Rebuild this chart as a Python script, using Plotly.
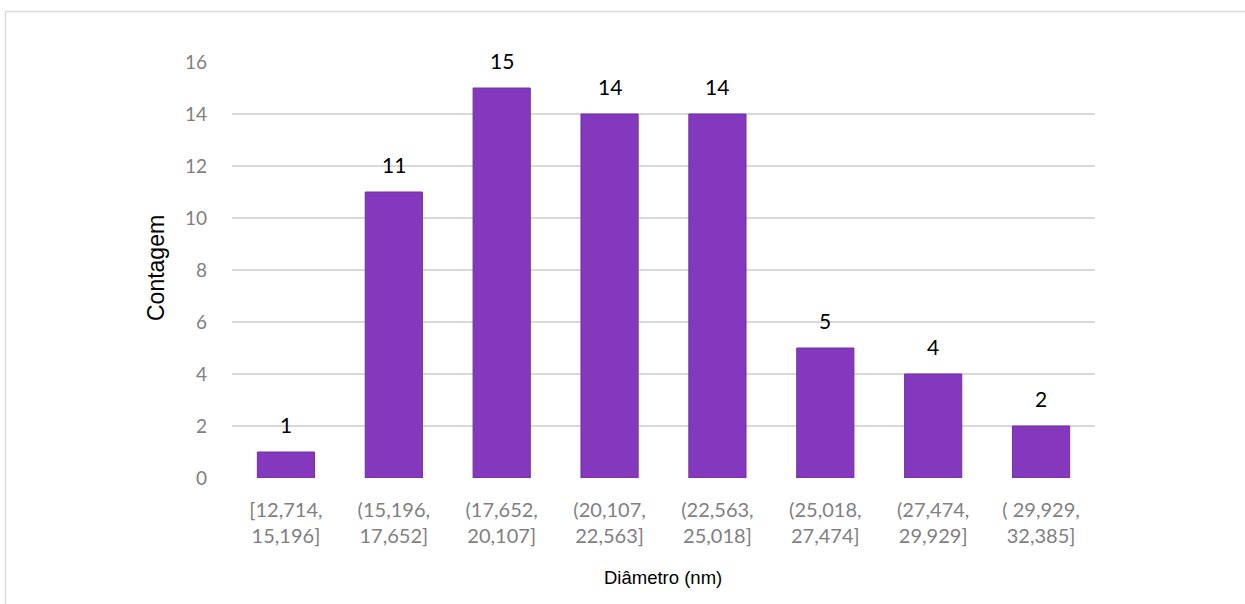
import plotly.graph_objects as go

# Histogram of particle diameters
bins = ["[12,714,<br>15,196]", "(15,196,<br>17,652]", "(17,652,<br>20,107]",
        "(20,107,<br>22,563]", "(22,563,<br>25,018]", "(25,018,<br>27,474]",
        "(27,474,<br>29,929]", "( 29,929,<br>32,385]"]
counts = [1, 11, 15, 14, 14, 5, 4, 2]
y_ticks = [0, 2, 4, 6, 8, 10, 12, 14, 16]

W, H = 1245, 604
L, R, T, B = 232, 150, 62, 126
pw, ph = W - L - R, H - T - B

def px_x(px):
    return (px - L) / pw

def px_y(py):
    return (H - B - py) / ph

fig = go.Figure()
fig.add_trace(go.Bar(
    x=list(range(len(bins))), y=counts,
    marker=dict(color="#8338BE", line=dict(color="#7030A0", width=1)),
    width=0.53, hoverinfo="skip",
))

# value labels above each bar
for i, c in enumerate(counts):
    fig.add_annotation(x=i, y=c, text=str(c), showarrow=False,
                       xanchor="center", yanchor="middle", yshift=28,
                       font=dict(family="Lato", size=21, color="#000000"))

# axis titles
fig.add_annotation(xref="paper", yref="paper", x=px_x(156), y=px_y(268),
                   xanchor="center", yanchor="middle",
                   text="Contagem", textangle=-90, showarrow=False,
                   font=dict(family="Liberation Sans", size=23, color="#000000"))
fig.add_annotation(xref="paper", yref="paper", x=px_x(663), y=px_y(577),
                   xanchor="center", yanchor="middle",
                   text="Diâmetro (nm)", showarrow=False,
                   font=dict(family="Liberation Sans", size=18.5, color="#000000"))

# outer chart frame
fig.add_shape(type="rect", xref="paper", yref="paper",
              x0=px_x(5.5), y0=px_y(700), x1=px_x(1400), y1=px_y(11.5),
              line=dict(color="#D9D9D9", width=1.5), fillcolor="rgba(0,0,0,0)", layer="below")

fig.update_layout(
    width=W, height=H,
    margin=dict(l=L, r=R, t=T, b=B, autoexpand=False),
    paper_bgcolor="white", plot_bgcolor="white",
    showlegend=False,
    xaxis=dict(tickmode="array", tickvals=list(range(len(bins))), ticktext=bins,
               range=[-0.5, len(bins) - 0.5], showgrid=False, zeroline=False,
               showline=False, ticks="", ticklabelstandoff=18,
               tickfont=dict(family="Lato", size=20, color="#808080")),
    yaxis=dict(range=[0, 16], tickvals=y_ticks, showgrid=True, gridcolor="#D9D9D9",
               gridwidth=1.5, zeroline=False, showline=False, ticks="",
               ticklabelstandoff=24,
               tickfont=dict(family="Lato", size=19, color="#808080")),
)

fig.write_html("out.html")
